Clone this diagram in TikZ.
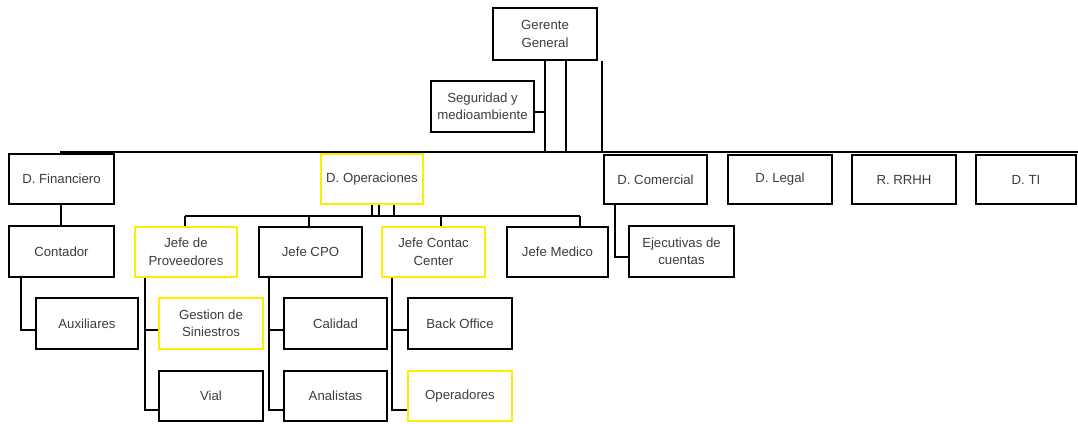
\documentclass[tikz,border=0pt]{standalone}
\usepackage{fontspec}
\setmainfont{Liberation Sans}
\begin{document}
\definecolor{txtgray}{RGB}{60,60,60}
\definecolor{hiyellow}{RGB}{255,238,0}
\begin{tikzpicture}[x=1pt,y=-1pt,
  unit/.style={draw=black, line width=1.9pt, inner sep=0pt, align=center,
    text=txtgray, font=\fontsize{13.2}{17.5}\selectfont},
  marked/.style={unit, draw=hiyellow},
  conn/.style={draw=black, line width=1.9pt},
  trunk/.style={draw=black, line width=2.8pt}]
\useasboundingbox (0,0) rectangle (1078,423);
% box from corner (x1,y1) to corner (x2,y2)
\newcommand\orgbox[7]{%
  \node[#7, minimum width={#4-#2}, minimum height={#5-#3}] (#1)
    at ({(#2+#4)/2},{(#3+#5)/2}) {#6};}

% top level
\orgbox{gg}{493}{8}{597}{60}{Gerente\\General}{unit}
\orgbox{seg}{431}{81}{534}{132}{Seguridad y\\medioambiente}{unit}

% departments
\orgbox{fin}{9}{154}{114}{204}{D. Financiero}{unit}
\orgbox{ope}{321}{154}{423}{204}{D. Operaciones}{marked}
\orgbox{com}{604}{155}{707}{204}{D. Comercial}{unit}
\orgbox{leg}{728}{155}{832}{204}{D. Legal}{unit}
\orgbox{rrhh}{852}{155}{956}{204}{R. RRHH}{unit}
\orgbox{ti}{976}{155}{1076}{204}{D. TI}{unit}

% second level
\orgbox{cont}{9}{226}{114}{277}{Contador}{unit}
\orgbox{jp}{135}{227}{237}{277}{Jefe de\\Proveedores}{marked}
\orgbox{cpo}{259}{227}{362}{277}{Jefe CPO}{unit}
\orgbox{jcc}{382}{227}{485}{277}{Jefe Contac\\Center}{marked}
\orgbox{jm}{507}{227}{608}{277}{Jefe Medico}{unit}
\orgbox{eje}{629}{226}{734}{277}{Ejecutivas de\\cuentas}{unit}

% third level
\orgbox{aux}{36}{298}{138}{349}{Auxiliares}{unit}
\orgbox{gs}{159}{298}{263}{349}{Gestion de\\Siniestros}{marked}
\orgbox{vial}{159}{371}{263}{421}{Vial}{unit}
\orgbox{cal}{284}{298}{387}{349}{Calidad}{unit}
\orgbox{ana}{284}{371}{387}{421}{Analistas}{unit}
\orgbox{bo}{408}{298}{512}{349}{Back Office}{unit}
\orgbox{op}{408}{371}{512}{421}{Operadores}{marked}

% main department bus
\coordinate (busL) at (60,152);
\coordinate (busR) at (1078,152);
\draw[conn] (busL) -- (busR);

% lines down from Gerente General
\coordinate (gA) at (545,152);
\coordinate (gB) at (566,152);
\coordinate (gC) at (602,152);
\draw[trunk] (gg.south -| gA) -- (gA);
\draw[conn] (gg.south -| gB) -- (gB);
\draw[conn] (gg.south -| gC) -- (gC);
\coordinate (segE) at ([yshift=-5.5pt]seg.east);
\draw[conn] (segE) -- (segE -| gA);

% D. Financiero branch
\coordinate (tf) at (61,0);
\draw[conn] (fin.south -| tf) -- (cont.north -| tf);
\coordinate (tc) at (21,0);
\coordinate (auxW) at ([yshift=-6.5pt]aux.west);
\draw[conn] (cont.south -| tc) |- (auxW);

% D. Operaciones branch
\coordinate (s1) at (372,216);
\coordinate (s2) at (379,216);
\coordinate (s3) at (394,216);
\draw[conn] (ope.south -| s1) -- (s1);
\draw[conn] (ope.south -| s2) -- (s2);
\draw[conn] (ope.south -| s3) -- (s3);
\coordinate (d1) at (185,216);
\coordinate (d2) at (309,216);
\coordinate (d3) at (441,216);
\coordinate (d4) at (580,216);
\draw[conn] (d1) -- (d4);
\draw[conn] (d1) -- (d1 |- jp.north);
\draw[conn] (d2) -- (d2 |- cpo.north);
\draw[conn] (d3) -- (d3 |- jcc.north);
\draw[conn] (d4) -- (d4 |- jm.north);

% Jefe de Proveedores
\coordinate (tp) at (145,0);
\coordinate (gsW) at ([yshift=-6.5pt]gs.west);
\coordinate (vialW) at ([yshift=-14pt]vial.west);
\draw[conn] (jp.south -| tp) |- (vialW);
\draw[conn] (gsW) -- (gsW -| tp);

% Jefe CPO
\coordinate (tq) at (269,0);
\coordinate (calW) at ([yshift=-6.5pt]cal.west);
\coordinate (anaW) at ([yshift=-14pt]ana.west);
\draw[conn] (cpo.south -| tq) |- (anaW);
\draw[conn] (calW) -- (calW -| tq);

% Jefe Contac Center
\coordinate (tr) at (392,0);
\coordinate (boW) at ([yshift=-6.5pt]bo.west);
\coordinate (opW) at ([yshift=-14pt]op.west);
\draw[conn] (jcc.south -| tr) |- (opW);
\draw[conn] (boW) -- (boW -| tr);

% D. Comercial
\coordinate (tk) at (615,0);
\coordinate (ejeW) at ([yshift=-5.5pt]eje.west);
\draw[conn] (com.south -| tk) |- (ejeW);
\end{tikzpicture}
\end{document}
